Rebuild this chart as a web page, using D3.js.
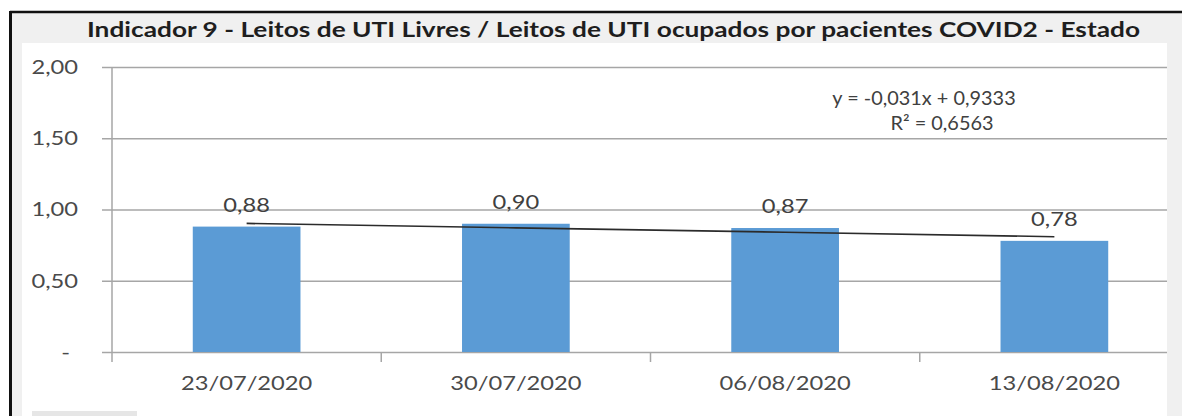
<!DOCTYPE html>
<html>
<head>
<meta charset="utf-8">
<script src="https://cdn.jsdelivr.net/npm/d3@7"></script>
<style>
  body { margin: 0; background: #fff; }
  svg { display: block; font-family: Lato, "Open Sans", sans-serif; }
</style>
</head>
<body>
<svg width="1182" height="416"></svg>
<script>
// data
var categories = ["23/07/2020", "30/07/2020", "06/08/2020", "13/08/2020"];
var values = [0.88, 0.90, 0.87, 0.78];
var yTicks = [0, 0.5, 1, 1.5, 2];
var trendSlope = -0.031,
    trendIntercept = 0.9333;
var equationLines = ["y = -0,031x + 0,9333", "R\u00b2 = 0,6563"];
var title = "Indicador 9 - Leitos de UTI Livres / Leitos de UTI ocupados por pacientes COVID2 - Estado";

var svg = d3.select("svg"),
    width = +svg.attr("width"),
    height = +svg.attr("height");

var plotLeft = 112, plotRight = 1167, plotTop = 67, plotBottom = 352;
var STRETCH = 1.28; // the source image is stretched sideways

function stretch(sel, k) {
  sel.each(function() {
    var w = this.getComputedTextLength();
    d3.select(this).attr("textLength", w * k).attr("lengthAdjust", "spacingAndGlyphs");
  });
}

var fmt = function(d) { return d === 0 ? "-" : d3.format(".2f")(d).replace(".", ","); };

// frame + backgrounds
svg.append("rect").attr("x", 10).attr("y", 12).attr("width", width - 10).attr("height", height - 12)
    .attr("fill", "#f0f0f0");
svg.append("rect").attr("x", 22).attr("y", 43).attr("width", plotRight - 22).attr("height", height - 43)
    .attr("fill", "#fff");
svg.append("rect").attr("x", 32).attr("y", 411).attr("width", 105).attr("height", 5)
    .attr("fill", "#e6e6e6");
svg.append("line").attr("x1", 10).attr("x2", width).attr("y1", 12).attr("y2", 12)
    .attr("stroke", "#111").attr("stroke-width", 2.5);
svg.append("line").attr("x1", 10.5).attr("x2", 10.5).attr("y1", 11).attr("y2", height)
    .attr("stroke", "#111").attr("stroke-width", 3);

svg.append("text")
    .attr("x", 87)
    .attr("y", 37)
    .attr("textLength", 1053)
    .attr("lengthAdjust", "spacingAndGlyphs")
    .style("font-size", "21.5px")
    .style("font-weight", "bold")
    .style("fill", "#1e1e1e")
    .text(title);

var x = d3.scaleBand()
    .domain(categories)
    .range([plotLeft, 1189])
    .paddingInner(0.6)
    .paddingOuter(0.3);

var y = d3.scaleLinear()
    .domain([0, 2])
    .range([plotBottom, plotTop]);

// y axis with gridlines
var yAxis = svg.append("g")
    .attr("transform", "translate(" + plotLeft + ",0)")
    .call(d3.axisLeft(y).tickValues(yTicks).tickFormat(fmt)
      .tickSize(-(plotRight - plotLeft)).tickSizeOuter(0).tickPadding(34));
yAxis.select(".domain").remove();
yAxis.selectAll(".tick line")
    .attr("x1", -10)
    .attr("stroke", "#a6a6a6")
    .attr("stroke-width", 1.5);
yAxis.selectAll(".tick text")
    .attr("dy", "0.35em")
    .style("font-family", "Lato, sans-serif")
    .style("font-size", "18.5px")
    .style("fill", "#4a4a4a")
    .filter(function(d) { return d === 0; })
    .attr("x", -42);

svg.append("line")
    .attr("x1", plotLeft).attr("x2", plotLeft)
    .attr("y1", plotTop).attr("y2", plotBottom + 10)
    .attr("stroke", "#a6a6a6").attr("stroke-width", 1.5);

// category boundary ticks
var tickPos = categories.map(function(c) { return x(c) - x.step() * x.paddingInner() / 2; }).slice(1);
svg.append("g").selectAll("line")
    .data(tickPos)
    .enter().append("line")
      .attr("x1", function(d) { return d; })
      .attr("x2", function(d) { return d; })
      .attr("y1", plotBottom)
      .attr("y2", plotBottom + 10)
      .attr("stroke", "#a6a6a6")
      .attr("stroke-width", 1.5);

var xAxis = svg.append("g")
    .attr("transform", "translate(0," + plotBottom + ")")
    .call(d3.axisBottom(x).tickSize(0).tickPadding(32));
xAxis.select(".domain").remove();
xAxis.selectAll(".tick text")
    .attr("dy", "0.35em")
    .style("font-family", "Lato, sans-serif")
    .style("font-size", "18.5px")
    .style("fill", "#4a4a4a");

// bars
svg.append("g").selectAll("rect")
    .data(values)
    .enter().append("rect")
      .attr("x", function(d, i) { return x(categories[i]); })
      .attr("y", function(d) { return y(d); })
      .attr("width", x.bandwidth())
      .attr("height", function(d) { return y(0) - y(d); })
      .attr("fill", "#5b9bd5");

// data labels
var labels = svg.append("g").selectAll("text")
    .data(values)
    .enter().append("text")
      .attr("x", function(d, i) { return x(categories[i]) + x.bandwidth() / 2; })
      .attr("y", function(d) { return y(d) - 15; })
      .style("text-anchor", "middle")
      .style("font-size", "18.5px")
      .style("fill", "#404040")
      .text(function(d) { return fmt(d); });

// linear trendline
var trend = categories.map(function(c, i) {
  return { x: x(c) + x.bandwidth() / 2, v: trendSlope * (i + 1) + trendIntercept };
});
svg.append("path")
    .datum(trend)
    .attr("fill", "none")
    .attr("stroke", "#2b2b2b")
    .attr("stroke-width", 1.6)
    .attr("d", d3.line().x(function(d) { return d.x; }).y(function(d) { return y(d.v); }));

// trendline equation box
var eqX = [924, 942];
var eq = svg.append("g").selectAll("text")
    .data(equationLines)
    .enter().append("text")
      .attr("x", function(d, i) { return eqX[i]; })
      .attr("y", function(d, i) { return 105 + i * 25; })
      .style("text-anchor", "middle")
      .style("font-size", "19.5px")
      .style("fill", "#404040")
      .text(function(d) { return d; });

stretch(yAxis.selectAll(".tick text"), STRETCH);
stretch(xAxis.selectAll(".tick text"), STRETCH);
stretch(labels, STRETCH);
stretch(eq, 1.02);
</script>
</body>
</html>
